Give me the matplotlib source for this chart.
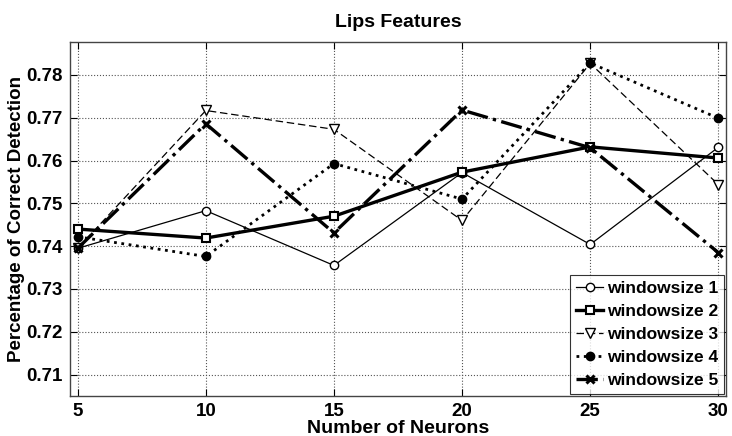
import matplotlib
matplotlib.use("Agg")
import matplotlib.pyplot as plt

plt.rcParams['font.family'] = ['Liberation Sans', 'DejaVu Sans']
plt.rcParams['font.weight'] = 'bold'

neurons = [5, 10, 15, 20, 25, 30]
ws1 = [0.7395, 0.7483, 0.7355, 0.7572, 0.7404, 0.7631]
ws2 = [0.7440, 0.7419, 0.7470, 0.7573, 0.7632, 0.7606]
ws3 = [0.7395, 0.7717, 0.7673, 0.7460, 0.7827, 0.7544]
ws4 = [0.7422, 0.7376, 0.7593, 0.7510, 0.7828, 0.7699]
ws5 = [0.7395, 0.7686, 0.7431, 0.7718, 0.7630, 0.7385]
labels = ['windowsize 1', 'windowsize 2', 'windowsize 3', 'windowsize 4', 'windowsize 5']
yticks = [0.71, 0.72, 0.73, 0.74, 0.75, 0.76, 0.77, 0.78]

fig = plt.figure(figsize=(7.32, 4.36), dpi=100)
ax = fig.add_axes([70 / 732, 40 / 436, 656 / 732, 354 / 436])

ax.plot(neurons, ws1, '-', color='black', lw=0.9, marker='o', ms=6,
        mfc='white', mec='black', label=labels[0])
ax.plot(neurons, ws2, '-', color='black', lw=2.4, marker='s', ms=6,
        mfc='white', mec='black', mew=1.5, label=labels[1])
ax.plot(neurons, ws3, '--', color='black', lw=0.9, marker='v', ms=7,
        mfc='white', mec='black', label=labels[2], dashes=(6, 3))
ax.plot(neurons, ws4, ':', color='black', lw=2.0, marker='o', ms=6,
        mfc='black', mec='black', label=labels[3])
ax.plot(neurons, ws5, '-.', color='black', lw=2.4, marker='x', ms=6,
        mew=2.2, label=labels[4])

ax.set_xlim(4.7, 30.3)
ax.set_ylim(0.705, 0.7877)
ax.set_xticks(neurons)
ax.set_yticks(yticks)
ax.set_xticklabels([str(n) for n in neurons], fontsize=13.5, fontweight='bold')
ax.set_yticklabels(['%.2f' % v for v in yticks], fontsize=13.5, fontweight='bold')
ax.tick_params(direction='in', top=True, right=True, length=5, width=0.8, pad=5)
ax.grid(True, linestyle=':', color='#555555', lw=0.8)
for s in ax.spines.values():
    s.set_linewidth(1.0)
    s.set_color('#444444')

ax.set_title('Lips Features', fontsize=14, fontweight='bold', pad=11)
ax.set_xlabel('Number of Neurons', fontsize=14, fontweight='bold', labelpad=0)
ax.set_ylabel('Percentage of Correct Detection', fontsize=13.5, fontweight='bold', labelpad=1)

leg = ax.legend(loc='lower right', frameon=True, fancybox=False,
                edgecolor='black', handlelength=1.6, handletextpad=0.2,
                borderpad=0.35, labelspacing=0.45, borderaxespad=0.1,
                prop={'weight': 'bold', 'size': 12.5})
leg.get_frame().set_linewidth(0.8)

fig.savefig('out.png', dpi=100)
